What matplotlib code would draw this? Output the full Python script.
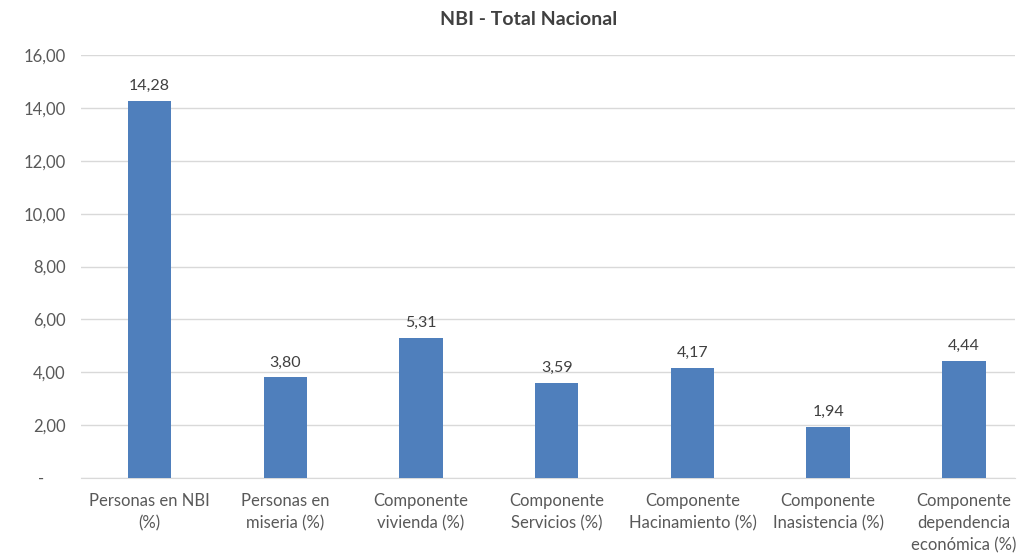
import matplotlib.pyplot as plt
import numpy as np

# DATA #
categorias = [
    "Personas en NBI\n(%)",
    "Personas en\nmiseria (%)",
    "Componente\nvivienda (%)",
    "Componente\nServicios (%)",
    "Componente\nHacinamiento (%)",
    "Componente\nInasistencia (%)",
    "Componente\ndependencia\neconómica (%)",
]
valores = [14.28, 3.80, 5.31, 3.59, 4.17, 1.94, 4.44]
yticks = [0, 2, 4, 6, 8, 10, 12, 14, 16]

TEXT_COLOR = "#595959"
BAR_COLOR = "#4f7fbc"

plt.rcParams['font.family'] = ['Lato', 'DejaVu Sans']


def fmt(v):
    # excel accounting style: zero shown as a dash, a bit left
    if v == 0:
        return "-     "
    return ("%.2f" % v).replace(".", ",")


fig = plt.figure(figsize=(10.22, 5.57), dpi=100)
ax = fig.add_axes([0.079, 0.142, 0.914, 0.759])

x = np.arange(len(categorias))
ax.bar(x, valores, width=0.32, color=BAR_COLOR, zorder=3)

for xi, v in zip(x, valores):
    ax.text(xi, v + 0.3, fmt(v), ha="center", va="bottom",
            fontsize=11.5, color="#404040")

ax.set_xlim(-0.508, 6.376)
ax.set_ylim(0, 16)
ax.set_yticks(yticks)
ax.set_yticklabels([fmt(t) for t in yticks])
ax.set_xticks(x)
ax.set_xticklabels(categorias, linespacing=1.45)

ax.yaxis.grid(True, color="#d9d9d9", linewidth=1, zorder=0)
for s in ["top", "right", "left"]:
    ax.spines[s].set_visible(False)
ax.spines["bottom"].set_color("#d9d9d9")
ax.tick_params(axis="both", length=0, labelsize=12, colors=TEXT_COLOR)
ax.tick_params(axis="y", pad=11)
ax.tick_params(axis="x", pad=11)

fig.suptitle("NBI - Total Nacional", x=0.517, y=0.98, fontsize=14,
             fontweight="bold", color="#404040")

fig.savefig("out.png", dpi=100)
plt.close(fig)
